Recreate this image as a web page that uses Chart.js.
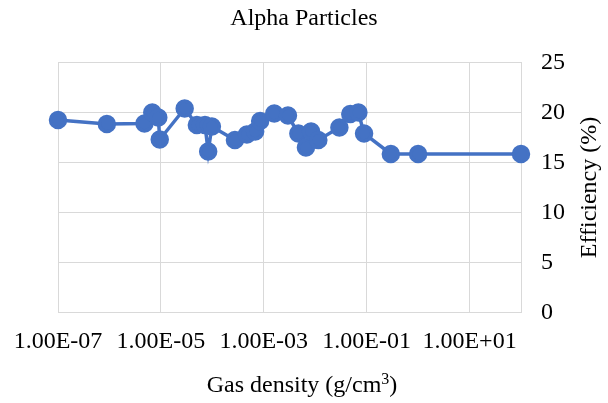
<!DOCTYPE html>
<html>
<head>
<meta charset="utf-8">
<script src="https://cdn.jsdelivr.net/npm/chart.js@4.4.1/dist/chart.umd.min.js"></script>
<style>
  html, body { margin: 0; padding: 0; background: #fff; }
  canvas { display: block; }
</style>
</head>
<body>
<canvas id="alphaChart" width="608" height="403"></canvas>
<script>
// gas density (g/cm3) vs efficiency (%)
const density = [1.0e-7, 8.9e-7, 4.8e-6, 6.8e-6, 8.9e-6, 9.5e-6, 2.9e-5, 5.0e-5, 7.2e-5, 8.3e-5,
  9.8e-5, 2.75e-4, 4.7e-4, 6.8e-4, 8.5e-4, 1.6e-3, 2.95e-3, 4.7e-3, 6.6e-3, 8.3e-3,
  1.15e-2, 2.95e-2, 4.8e-2, 6.9e-2, 8.9e-2, 0.295, 1.0, 100];
const efficiency = [19.25, 18.85, 18.9, 20.0, 19.5, 17.3, 20.4, 18.75, 18.75, 16.1,
  18.6, 17.25, 17.8, 18.1, 19.15, 19.9, 19.7, 17.9, 16.5, 18.1,
  17.25, 18.5, 19.85, 20.0, 17.9, 15.85, 15.85, 15.85];
const xTicks = [1e-7, 1e-5, 1e-3, 1e-1, 1e1, 1e2];
const xTickLabels = ['1.00E-07', '1.00E-05', '1.00E-03', '1.00E-01', '1.00E+01', ''];
const yTicks = [0, 5, 10, 15, 20, 25];

const serif = 'Liberation Serif';
const fontSize = 24;
const gridColor = '#d9d9d9';

const points = density.map((d, i) => ({ x: d, y: efficiency[i] }));

// axis titles: y reads bottom-to-top on the right, x has a superscript
const axisTitles = {
  id: 'axisTitles',
  afterDraw(chart) {
    const { ctx, chartArea } = chart;
    ctx.save();
    ctx.fillStyle = '#000';
    ctx.textBaseline = 'middle';

    ctx.save();
    ctx.translate(590, (chartArea.top + chartArea.bottom) / 2);
    ctx.rotate(-Math.PI / 2);
    ctx.font = fontSize + 'px "' + serif + '"';
    ctx.textAlign = 'center';
    ctx.fillText('Efficiency (%)', 0, 0);
    ctx.restore();

    const main = fontSize + 'px "' + serif + '"';
    const sup = Math.round(fontSize * 0.65) + 'px "' + serif + '"';
    const a = 'Gas density (g/cm', b = '3', c = ')';
    ctx.font = main;
    const wa = ctx.measureText(a).width, wc = ctx.measureText(c).width;
    ctx.font = sup;
    const wb = ctx.measureText(b).width;
    let x = 302 - (wa + wb + wc) / 2;
    const y = 386;
    ctx.textAlign = 'left';
    ctx.font = main;
    ctx.fillText(a, x, y);
    x += wa;
    ctx.font = sup;
    ctx.fillText(b, x, y - 6);
    x += wb;
    ctx.font = main;
    ctx.fillText(c, x, y);
    ctx.restore();
  }
};

new Chart(document.getElementById('alphaChart'), {
  type: 'scatter',
  data: {
    datasets: [{
      data: points,
      showLine: true,
      borderColor: '#4472C4',
      backgroundColor: '#4472C4',
      borderWidth: 3.5,
      pointRadius: 7.5,
      pointHoverRadius: 7.5,
      clip: false
    }]
  },
  options: {
    responsive: false,
    animation: false,
    layout: { padding: 0 },
    plugins: {
      legend: { display: false },
      tooltip: { enabled: false },
      title: {
        display: true,
        text: 'Alpha Particles',
        color: '#000',
        font: { family: serif, size: fontSize, weight: 'normal' },
        padding: { top: 4, bottom: 29.7 }
      }
    },
    scales: {
      x: {
        type: 'logarithmic',
        min: 1e-7,
        max: 1e2,
        afterBuildTicks(scale) {
          scale.ticks = xTicks.map(v => ({ value: v }));
        },
        afterFit(scale) {
          scale.height = 90.5;
          scale.paddingLeft = 58;
        },
        grid: { color: gridColor, drawTicks: false },
        border: { color: gridColor },
        ticks: {
          autoSkip: false,
          maxRotation: 0,
          padding: 15,
          color: '#000',
          font: { family: serif, size: fontSize },
          callback(v) {
            const i = xTicks.indexOf(v);
            return i >= 0 ? xTickLabels[i] : '';
          }
        }
      },
      y: {
        position: 'right',
        min: 0,
        max: 25,
        afterBuildTicks(scale) {
          scale.ticks = yTicks.map(v => ({ value: v }));
        },
        afterFit(scale) { scale.width = 87; },
        grid: { color: gridColor, drawTicks: false },
        border: { color: gridColor },
        ticks: {
          padding: 20,
          color: '#000',
          font: { family: serif, size: fontSize }
        }
      }
    }
  },
  plugins: [axisTitles]
});
</script>
</body>
</html>
